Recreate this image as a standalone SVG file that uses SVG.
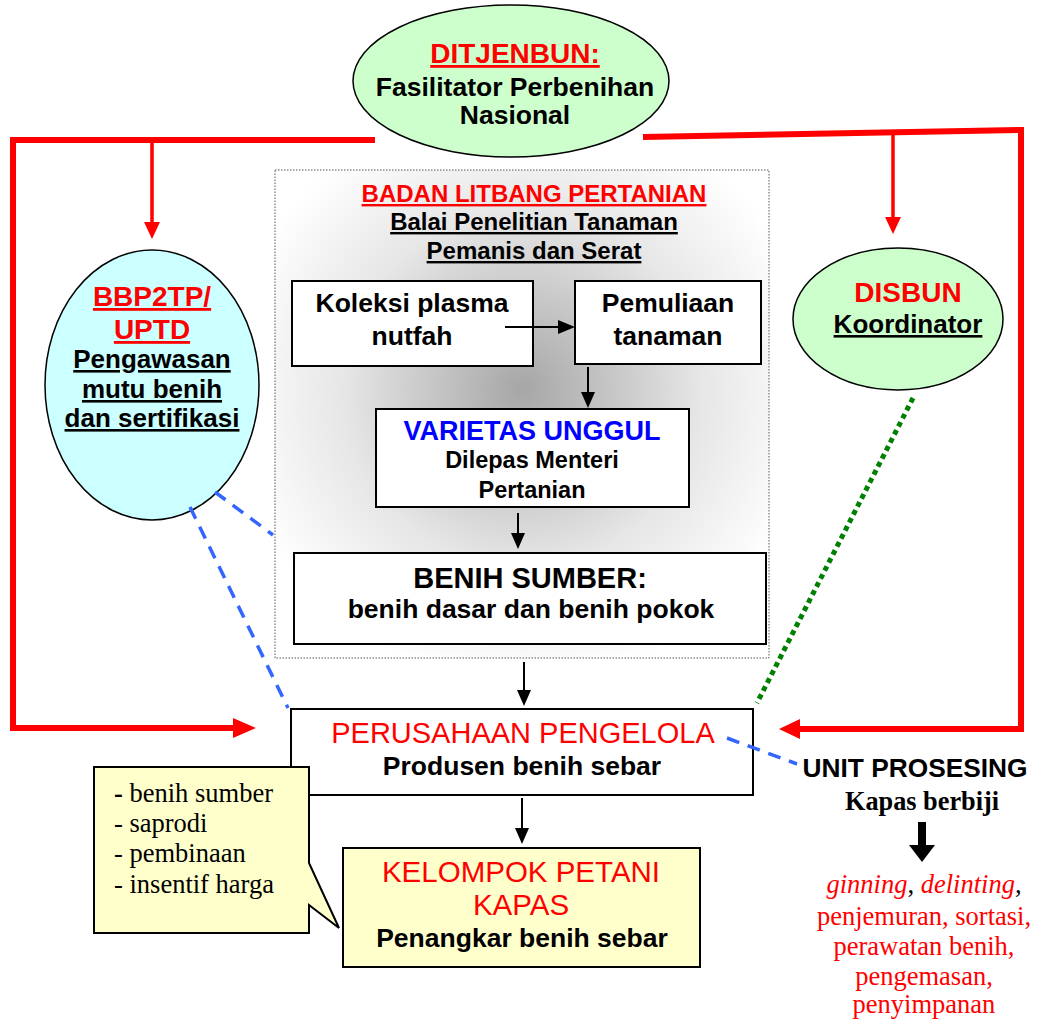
<svg xmlns="http://www.w3.org/2000/svg" width="1039" height="1022" viewBox="0 0 1039 1022">
<defs>
<radialGradient id="shade" cx="50%" cy="45%" r="60%">
<stop offset="0%" stop-color="#A6A6A6"/>
<stop offset="60%" stop-color="#E6E6E6"/>
<stop offset="100%" stop-color="#FFFFFF"/>
</radialGradient>
</defs>
<style>
.sans{font-family:"Liberation Sans",Arial,sans-serif;}
.serif{font-family:"Liberation Serif","Times New Roman",serif;}
.b{font-weight:bold;}
.red{fill:#FF0000;}
.blk{fill:#000;}
.blue{fill:#0000FF;}
.u{text-decoration:underline;}
.box{fill:#fff;stroke:#000;stroke-width:2;}
.ell{stroke:#000;stroke-width:1.5;}
.redline{fill:none;stroke:#FF0000;stroke-linejoin:miter;}
.blk-line{stroke:#000;stroke-width:2;fill:none;}
.bluedash{stroke:#3366FF;stroke-width:3.5;stroke-dasharray:13 9;fill:none;}
.greendot{stroke:#008000;stroke-width:5;stroke-dasharray:5 4;fill:none;}
text{text-anchor:middle;}
</style>

<g id="litbang">
<rect x="275" y="170" width="494" height="488" fill="url(#shade)" stroke="#555" stroke-width="1" stroke-dasharray="1.5 1.5"/>
<text x="534" y="202" class="sans b red u" font-size="24">BADAN LITBANG PERTANIAN</text>
<text x="534" y="230" class="sans b blk u" font-size="24">Balai Penelitian Tanaman</text>
<text x="534" y="259" class="sans b blk u" font-size="24">Pemanis dan Serat</text>
</g>

<g id="ditjenbun">
<ellipse class="ell" cx="511" cy="81" rx="158" ry="76" fill="#CCFFCC"/>
<text x="515" y="63" class="sans b red u" font-size="28">DITJENBUN:</text>
<text x="515" y="96" class="sans b blk" font-size="26.5">Fasilitator Perbenihan</text>
<text x="515" y="124" class="sans b blk" font-size="26.5">Nasional</text>
</g>

<g id="bbp2tp">
<ellipse class="ell" cx="152" cy="385" rx="107" ry="135" fill="#CCFFFF"/>
<text x="152" y="306" class="sans b red u" font-size="28">BBP2TP/</text>
<text x="152" y="339" class="sans b red u" font-size="28">UPTD</text>
<text x="152" y="368" class="sans b blk u" font-size="26">Pengawasan</text>
<text x="152" y="398" class="sans b blk u" font-size="26">mutu benih</text>
<text x="152" y="427" class="sans b blk u" font-size="26">dan sertifikasi</text>
</g>

<g id="disbun">
<ellipse class="ell" cx="898" cy="319" rx="105" ry="71" fill="#CCFFCC"/>
<text x="908" y="302" class="sans b red" font-size="28">DISBUN</text>
<text x="908" y="333" class="sans b blk u" font-size="26">Koordinator</text>
</g>

<g id="koleksi">
<rect class="box" x="292" y="281" width="241" height="85"/>
<text x="412" y="312" class="sans b blk" font-size="26.5">Koleksi plasma</text>
<text x="412" y="345" class="sans b blk" font-size="26.5">nutfah</text>
</g>

<g id="pemuliaan">
<rect class="box" x="575" y="281" width="186" height="83"/>
<text x="668" y="312" class="sans b blk" font-size="26.5">Pemuliaan</text>
<text x="668" y="345" class="sans b blk" font-size="26.5">tanaman</text>
</g>

<g id="varietas">
<rect class="box" x="376" y="409" width="313" height="98"/>
<text x="532" y="440" class="sans b blue" font-size="27">VARIETAS UNGGUL</text>
<text x="532" y="468" class="sans b blk" font-size="23.5">Dilepas Menteri</text>
<text x="532" y="498" class="sans b blk" font-size="23.5">Pertanian</text>
</g>

<g id="benih-sumber">
<rect class="box" x="294" y="553" width="472" height="91"/>
<text x="530" y="588" class="sans b blk" font-size="29">BENIH SUMBER:</text>
<text x="531" y="618" class="sans b blk" font-size="26.5">benih dasar dan benih pokok</text>
</g>

<g id="perusahaan">
<rect class="box" x="291" y="709" width="462" height="86"/>
<text x="523" y="743" class="sans red" font-size="29">PERUSAHAAN PENGELOLA</text>
<text x="522" y="775" class="sans b blk" font-size="26.5">Produsen benih sebar</text>
</g>

<g id="kelompok">
<rect x="343" y="848" width="357" height="119" fill="#FFFFCC" stroke="#000" stroke-width="2"/>
<text x="521" y="882" class="sans red" font-size="29.5">KELOMPOK PETANI</text>
<text x="521" y="915" class="sans red" font-size="29.5">KAPAS</text>
<text x="522" y="947" class="sans b blk" font-size="26.5">Penangkar benih sebar</text>
</g>

<g id="callout">
<path d="M94,767 H309 V863 L339,928 L309,905 V933 H94 Z" fill="#FFFFCC" stroke="#000" stroke-width="2"/>
<text x="114" y="802" class="serif blk" font-size="26.5" style="text-anchor:start"><tspan font-weight="bold">-</tspan> benih sumber</text>
<text x="114" y="832" class="serif blk" font-size="26.5" style="text-anchor:start">- saprodi</text>
<text x="114" y="862" class="serif blk" font-size="26.5" style="text-anchor:start">- pembinaan</text>
<text x="114" y="893" class="serif blk" font-size="26.5" style="text-anchor:start">- insentif harga</text>
</g>

<g id="unit-prosesing">
<text x="915" y="777" class="sans b blk" font-size="26.3">UNIT PROSESING</text>
<text x="922" y="810" class="serif b blk" font-size="26.3">Kapas berbiji</text>
<text x="924" y="893" class="serif" font-size="26.5"><tspan class="red" font-style="italic">ginning</tspan><tspan class="blk">, </tspan><tspan class="red" font-style="italic">delinting</tspan><tspan class="blk">,</tspan></text>
<text x="924" y="925" class="serif red" font-size="26.5">penjemuran, sortasi,</text>
<text x="924" y="955" class="serif red" font-size="26.5">perawatan benih,</text>
<text x="924" y="985" class="serif red" font-size="26.5">pengemasan,</text>
<text x="924" y="1013" class="serif red" font-size="26.5">penyimpanan</text>
</g>

<g id="connectors">
<polyline class="redline" stroke-width="6" points="375,140 13,140 13,728 236,728"/>
<path d="M233,718 L256,728 L233,738 Z" fill="#FF0000"/>
<line class="redline" stroke-width="3.5" x1="152" y1="140" x2="152" y2="224"/>
<path d="M144,222 L152,239 L160,222 Z" fill="#FF0000"/>
<polyline class="redline" stroke-width="6" points="643,137 1021,130 1021,729 798,729"/>
<path d="M800,719 L779,729 L800,739 Z" fill="#FF0000"/>
<line class="redline" stroke-width="3.5" x1="893" y1="134" x2="893" y2="219"/>
<path d="M885,217 L893,234 L901,217 Z" fill="#FF0000"/>
<line class="blk-line" x1="505" y1="327" x2="560" y2="327"/>
<path d="M558,320 L575,327 L558,334 Z" fill="#000"/>
<line class="blk-line" x1="588" y1="367" x2="588" y2="394"/>
<path d="M581,392 L588,408 L595,392 Z" fill="#000"/>
<line class="blk-line" x1="518" y1="513" x2="518" y2="535"/>
<path d="M511,533 L518,549 L525,533 Z" fill="#000"/>
<line class="blk-line" x1="524" y1="662" x2="524" y2="692"/>
<path d="M517,690 L524,706 L531,690 Z" fill="#000"/>
<line class="blk-line" x1="522" y1="798" x2="522" y2="830"/>
<path d="M515,828 L522,844 L529,828 Z" fill="#000"/>
<line class="bluedash" x1="190" y1="507" x2="288" y2="708"/>
<line class="bluedash" x1="215" y1="492" x2="273" y2="535"/>
<line class="bluedash" x1="727" y1="738" x2="797" y2="764"/>
<line class="greendot" x1="913" y1="398" x2="757" y2="703"/>
<rect x="918" y="822" width="8" height="24" fill="#000"/>
<path d="M909,845 L935,845 L922,862 Z" fill="#000"/>
</g>
</svg>
